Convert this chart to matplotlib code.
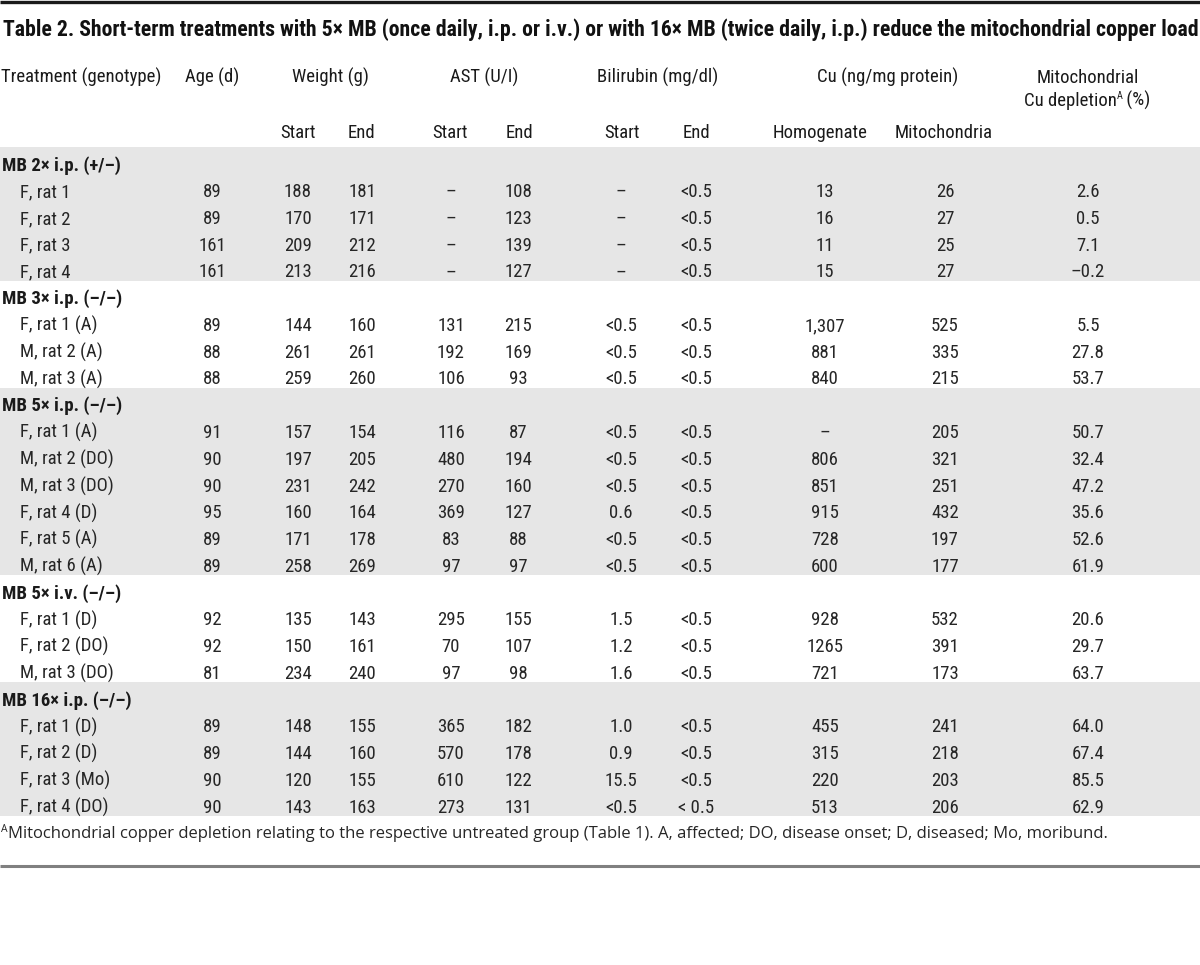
import matplotlib
matplotlib.use("Agg")
import matplotlib.pyplot as plt
from matplotlib import font_manager

# ---------------- data ----------------
title = ("Table 2. Short-term treatments with 5× MB (once daily, i.p. or i.v.) or with 16× MB "
         "(twice daily, i.p.) reduce the mitochondrial copper load")
groups = ["MB 2× i.p. (+/–)", "MB 3× i.p. (–/–)", "MB 5× i.p. (–/–)",
          "MB 5× i.v. (–/–)", "MB 16× i.p. (–/–)"]
group_sizes = [4, 3, 6, 3, 4]
animals = ["F, rat 1", "F, rat 2", "F, rat 3", "F, rat 4",
           "F, rat 1 (A)", "M, rat 2 (A)", "M, rat 3 (A)",
           "F, rat 1 (A)", "M, rat 2 (DO)", "M, rat 3 (DO)", "F, rat 4 (D)", "F, rat 5 (A)", "M, rat 6 (A)",
           "F, rat 1 (D)", "F, rat 2 (DO)", "M, rat 3 (DO)",
           "F, rat 1 (D)", "F, rat 2 (D)", "F, rat 3 (Mo)", "F, rat 4 (DO)"]
age = ["89", "89", "161", "161", "89", "88", "88", "91", "90", "90", "95", "89", "89",
       "92", "92", "81", "89", "89", "90", "90"]
weight_start = ["188", "170", "209", "213", "144", "261", "259", "157", "197", "231", "160", "171", "258",
                "135", "150", "234", "148", "144", "120", "143"]
weight_end = ["181", "171", "212", "216", "160", "261", "260", "154", "205", "242", "164", "178", "269",
              "143", "161", "240", "155", "160", "155", "163"]
ast_start = ["–", "–", "–", "–", "131", "192", "106", "116", "480", "270", "369", "83", "97",
             "295", "70", "97", "365", "570", "610", "273"]
ast_end = ["108", "123", "139", "127", "215", "169", "93", "87", "194", "160", "127", "88", "97",
           "155", "107", "98", "182", "178", "122", "131"]
bili_start = ["–", "–", "–", "–", "<0.5", "<0.5", "<0.5", "<0.5", "<0.5", "<0.5", "0.6", "<0.5", "<0.5",
              "1.5", "1.2", "1.6", "1.0", "0.9", "15.5", "<0.5"]
bili_end = ["<0.5"] * 19 + ["< 0.5"]
cu_homogenate = ["13", "16", "11", "15", "1,307", "881", "840", "–", "806", "851", "915", "728", "600",
                 "928", "1265", "721", "455", "315", "220", "513"]
cu_mito = ["26", "27", "25", "27", "525", "335", "215", "205", "321", "251", "432", "197", "177",
           "532", "391", "173", "241", "218", "203", "206"]
depletion = ["2.6", "0.5", "7.1", "–0.2", "5.5", "27.8", "53.7", "50.7", "32.4", "47.2", "35.6", "52.6",
             "61.9", "20.6", "29.7", "63.7", "64.0", "67.4", "85.5", "62.9"]
footnote_main = ("Mitochondrial copper depletion relating to the respective untreated group (Table 1). "
                 "A, affected; DO, disease onset; D, diseased; Mo, moribund.")

# ---------------- fonts ----------------
def pick(cands):
    for c in cands:
        try:
            font_manager.findfont(c, fallback_to_default=False)
            return c
        except Exception:
            pass
    return "DejaVu Sans"

NARROW = pick(["Liberation Sans Narrow", "Roboto Condensed", "Open Sans Condensed", "Liberation Sans"])
WIDE = pick(["Open Sans", "Noto Sans", "Liberation Sans"])
FAM = [NARROW, "DejaVu Sans"]
FAMW = [WIDE, "DejaVu Sans"]

W, H = 1200, 965
fig = plt.figure(figsize=(W / 100, H / 100), dpi=100)
ax = fig.add_axes([0, 0, 1, 1])
ax.set_xlim(0, W)
ax.set_ylim(H, 0)
ax.axis("off")
renderer = fig.canvas.get_renderer()

TXT = "#262626"
SHADE = "#e6e6e6"


def width_of(t):
    bb = t.get_window_extent(renderer=renderer)
    return bb.width


def fit_text(x, y, s, target_w, **kw):
    t = ax.text(x, y, s, **kw)
    w = width_of(t)
    t.set_fontsize(t.get_fontsize() * target_w / w)
    return t


def pieces(x, y, parts, ha="left"):
    # parts: list of (string, fontsize, dy, kw)
    objs = []
    for s, fs, dy, kw in parts:
        objs.append(ax.text(0, y + dy, s, fontsize=fs, va="baseline", ha="left", **kw))
    widths = [width_of(o) for o in objs]
    total = sum(widths)
    start = x if ha == "left" else (x - total / 2 if ha == "center" else x - total)
    cx = start
    for o, w in zip(objs, widths):
        o.set_x(cx)
        cx += w
    return objs


# rules
ax.plot([0, W], [1.5, 1.5], color="#1a1a1a", lw=2.4, solid_capstyle="butt")
ax.plot([0, W], [866, 866], color="#808080", lw=2.2, solid_capstyle="butt")

# title
fit_text(3, 36, title, 1187, fontsize=13, fontweight="bold", family=FAM, color="#111", va="baseline")

# headers
HFS = 13.5
hkw = dict(fontsize=HFS, family=FAM, color="#1a1a1a", va="baseline")
ax.text(1, 83, "Treatment (genotype)", ha="left", **hkw)
ax.text(212, 83, "Age (d)", ha="center", **hkw)
ax.text(330, 83, "Weight (g)", ha="center", **hkw)
ax.text(484, 83, "AST (U/I)", ha="center", **hkw)
ax.text(658, 83, "Bilirubin (mg/dl)", ha="center", **hkw)
ax.text(888, 83, "Cu (ng/mg protein)", ha="center", **hkw)
ax.text(1088, 83, "Mitochondrial", ha="center", **hkw)
pieces(1087, 106, [("Cu depletion", HFS, 0, dict(family=FAM, color="#1a1a1a")),
                   ("A", HFS * 0.55, -7, dict(family=FAM, color="#1a1a1a")),
                   (" (%)", HFS, 0, dict(family=FAM, color="#1a1a1a"))], ha="center")
sub = [(298, "Start"), (361, "End"), (450, "Start"), (519, "End"), (622, "Start"), (696, "End"),
       (820, "Homogenate"), (944, "Mitochondria")]
for x, s in sub:
    ax.text(x, 138, s, ha="center", **hkw)

# body
ROW_TOP = 147.0
ROW_H = 26.76
cols = [(212, age), (298, weight_start), (362, weight_end), (451, ast_start), (518, ast_end),
        (621, bili_start), (696, bili_end), (825, cu_homogenate), (945, cu_mito), (1088, depletion)]
dkw = dict(fontsize=13.5, family=FAM, color=TXT, va="baseline", ha="center")

row = 0
idx = 0
for g, (gname, n) in enumerate(zip(groups, group_sizes)):
    top = ROW_TOP + row * ROW_H
    if g % 2 == 0:
        ax.axhspan(top, top + (n + 1) * ROW_H, color=SHADE, lw=0, zorder=0)
    ax.text(2, top + 0.5 * ROW_H + 10, gname, fontsize=13.5, fontweight="bold", family=FAM,
            color="#1a1a1a", va="baseline", ha="left")
    row += 1
    for k in range(n):
        yb = ROW_TOP + (row + 0.5) * ROW_H + 10
        ax.text(20, yb, animals[idx], fontsize=13.5, family=FAM, color=TXT, va="baseline", ha="left")
        for x, arr in cols:
            ax.text(x, yb, arr[idx], **dkw)
        row += 1
        idx += 1

# footnote
fn = pieces(1, 838, [("A", 7.5, -6, dict(family=FAMW, color=TXT)),
                     (footnote_main, 12, 0, dict(family=FAMW, color=TXT))])
w_total = sum(width_of(o) for o in fn)
scale = 1104 / w_total
for o in fn:
    o.set_fontsize(o.get_fontsize() * scale)
cx = 1
for o in fn:
    o.set_x(cx)
    cx += width_of(o)

fig.savefig("out.png", dpi=100)
